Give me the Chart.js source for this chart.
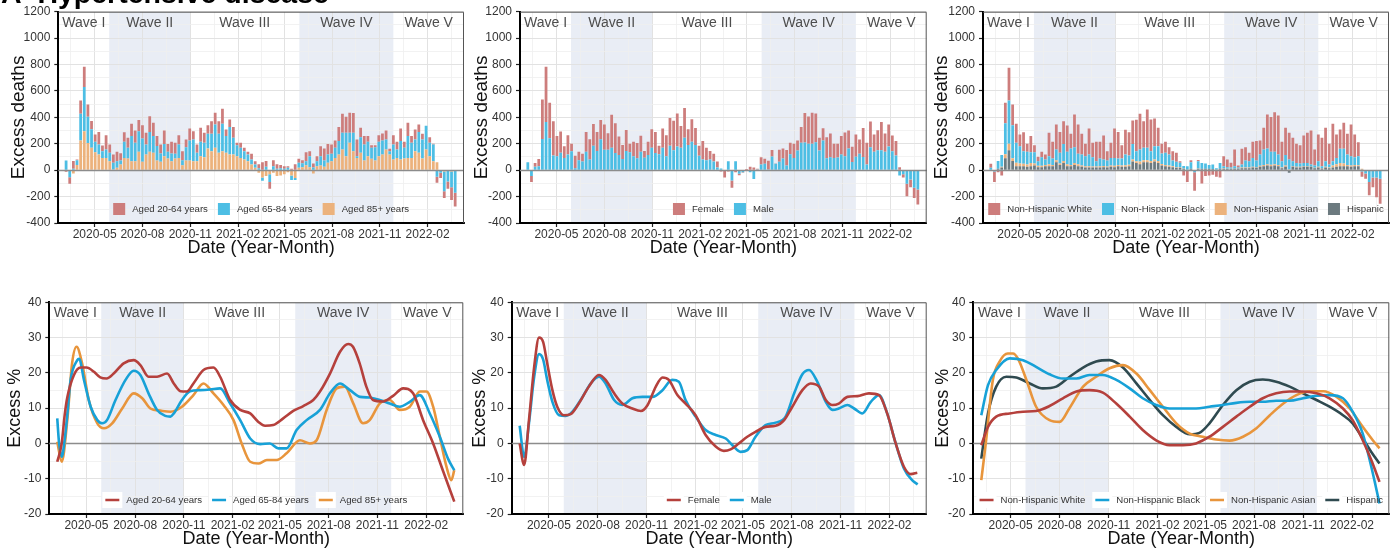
<!DOCTYPE html>
<html>
<head>
<meta charset="utf-8">
<script src="https://cdn.jsdelivr.net/npm/chart.js@4.4.0/dist/chart.umd.min.js"></script>
<style>
  body { margin: 0; width: 1399px; height: 551px; overflow: hidden; background: #fff; position: relative; font-family: "Liberation Sans", Arial, sans-serif; }
  canvas { position: absolute; }
  #title { position: absolute; z-index: 2; left: 1px; top: -22px; font: bold 28.5px "Liberation Sans", Arial, sans-serif; line-height: 30px; white-space: nowrap; color: #000; }
</style>
</head>
<body>
<div id="title">A&nbsp; Hypertensive disease</div>
<canvas id="ageBars" width="466" height="270" style="left:0;top:0"></canvas>
<canvas id="sexBars" width="464" height="270" style="left:466px;top:0"></canvas>
<canvas id="raceBars" width="469" height="270" style="left:930px;top:0"></canvas>
<canvas id="ageLines" width="466" height="271" style="left:0;top:280px"></canvas>
<canvas id="sexLines" width="464" height="271" style="left:466px;top:280px"></canvas>
<canvas id="raceLines" width="469" height="271" style="left:930px;top:280px"></canvas>
<script>
// weekly bars: week ending 2020-03-07 .. 2022-03-26 (108 weeks)
const firstWeek = Date.UTC(2020, 2, 7);
const weekCount = 108;
const xMin = -15, xMax = 766;

const monthLabels = ["2020-05", "2020-08", "2020-11", "2021-02", "2021-05", "2021-08", "2021-11", "2022-02"];
const waveNames = ["Wave I", "Wave II", "Wave III", "Wave IV", "Wave V"];
const waveBreaks = ["2020-05-29", "2020-11-01", "2021-05-30", "2021-11-27"];

// excess deaths by age (stack: 85+ bottom, 65-84, 20-64 top)
const age85 = [0,0,-25,40,225,295,205,170,136,119, 93,93,68,5,18,43,93,88,68,68,
  139,63,119,139,131,73,63,106,88,68, 88,93,38,73,73,68,68,106,98,164,
  144,169,131,144,131,119,119,106,93,81, 68,43,18,-20,-55,-45,-30,-20,-45,-40,
  -30,-15,-40,-60,18,23,38,23,-25,30, 35,25,56,68,93,119,157,106,207,144,
  93,131,73,106,86,73,106,119,157,119, 81,93,81,88,93,93,144,131,88,157,
  106,68,60,0,-10,-5,-10,-5];
const age6584 = [73,-53,10,35,202,334,200,140,79,76, 51,64,63,51,50,30,122,81,190,139,
  156,177,75,151,127,111,63,93,51,58, 36,101,38,101,152,164,63,109,109,111,
  131,177,144,207,127,207,126,83,76,63, 51,38,25,15,-25,25,-60,30,10,15,
  10,18,-35,-15,38,30,30,83,20,38, 71,48,63,56,76,101,126,177,76,139,
  13,119,121,109,83,101,109,106,75,25, 113,64,139,81,165,114,88,159,144,180,
  101,127,-50,-20,-150,-80,-120,-165];
const age2064 = [-12,-50,60,5,101,154,92,62,55,95, 43,108,63,63,71,56,73,76,93,93,
  84,101,89,119,101,74,68,101,60,89, 83,71,68,58,91,63,63,106,76,66,
  96,88,96,114,50,58,81,18,38,25, 20,43,25,30,60,45,-50,45,35,25,
  20,12,10,45,30,23,68,38,30,38, 76,91,80,70,56,106,144,121,151,149,
  126,71,64,43,20,15,50,53,68,18, 71,58,96,46,101,51,76,56,43,0,
  43,5,-45,-40,-50,-55,-95,-105];

// excess deaths by sex (stack: male bottom, female top)
const sexFemale = [0,-45,30,55,298,419,268,260,152,161, 89,146,56,95,65,60,150,155,165,145,
  145,190,125,250,225,140,105,160,65,110, 115,120,50,100,140,160,65,145,160,210,
  225,250,165,225,120,170,130,75,140,95, 65,60,45,-10,-50,-10,-56,-15,-10,-5,
  8,25,20,5,55,38,66,48,2,92, 77,117,86,107,76,119,222,207,234,218,
  96,93,159,180,107,104,139,179,136,116, 169,108,220,164,194,131,152,213,139,167,
  119,109,22,-25,-94,-60,-76,-114];
const sexMale = [60,-45,25,30,237,364,242,111,106,131, 93,119,144,15,75,65,140,80,185,145,
  235,155,155,170,130,115,85,145,135,105, 90,140,95,115,170,130,120,170,105,185,
  150,180,170,245,190,215,190,110,80,75, 80,65,20,12,-5,68,-78,68,-28,-15,
  -5,-15,-66,5,43,48,5,104,48,63, 88,35,121,93,149,207,210,200,200,212,
  149,225,91,98,93,96,119,106,164,61, 101,124,100,43,174,139,151,151,139,179,
  144,111,-40,-30,-103,-70,-134,-146];

// excess deaths by race/ethnicity (stack: Hispanic, Asian, Black, White top)
const raceWhite = [30,-80,-15,-40,155,247,157,144,88,144, 61,122,53,33,41,38,177,127,189,159,
  172,199,111,248,222,156,94,197,109,147, 127,182,71,114,223,202,101,187,177,177,
  237,270,202,291,240,209,139,74,84,55, 71,68,12,-40,-90,15,-140,10,-100,-45,
  -40,-35,-50,-55,76,58,36,127,15,119, 101,63,122,147,106,164,258,263,300,295,
  147,207,202,177,145,139,208,228,257,122, 202,215,253,157,283,177,146,197,156,240,
  172,106,-40,-40,-100,-75,-150,-190];
const raceBlack = [15,-5,60,90,235,328,250,151,132,96, 96,81,86,35,65,41,61,48,82,81,
  129,94,124,119,79,84,76,89,70,40, 58,49,45,58,59,48,53,82,69,119,
  77,92,94,94,74,102,112,79,91,84, 43,40,33,20,25,50,-10,55,45,40,
  30,35,10,45,15,12,10,17,8,23, 53,48,68,50,86,117,119,97,94,79,
  48,79,76,38,30,25,25,25,15,17, 43,15,43,23,33,48,107,112,79,71,
  58,68,-10,-20,-85,-50,-50,-60];
const raceAsian = [0,0,0,5,30,50,20,26,20,18, 18,25,15,10,10,10,15,10,15,10,
  15,15,10,15,15,10,10,10,8,8, 10,10,8,10,12,10,10,12,12,15,
  12,20,15,15,15,15,15,12,10,10, 8,5,5,2,0,0,0,2,0,0,
  0,0,0,0,5,3,2,3,2,5, 5,5,5,5,8,10,10,12,10,10,
  5,10,5,5,5,5,5,5,3,3, 5,3,5,5,15,20,25,20,10,10,
  10,8,5,0,0,0,0,0];
const raceHispanic = [3,-5,10,20,90,150,70,30,30,30, 25,30,35,23,23,30,30,30,60,40,
  55,30,30,40,30,25,20,20,20,20, 20,22,20,25,22,30,25,25,30,65,
  55,45,60,60,55,65,55,35,30,25, 22,18,18,10,5,10,-5,10,10,10,
  10,8,5,10,10,8,8,10,10,15, 15,15,20,18,25,30,35,30,35,30,
  15,25,-20,25,20,20,25,25,25,15, 20,12,20,15,20,25,30,30,30,25,
  30,30,5,-5,-5,-5,-5,-5];

// smoothed excess % curves: [week number, percent]
const pctAge2064 = [[1,-5.2],[2.2,0],[3,8],[3.7,13],[5.5,19.4],[7.3,21.5],[8.9,21.5],[10.9,20.3],[12.6,18.7],[14.3,18.4],
  [16.2,19.8],[18.9,22.7],[21.6,23.6],[23.4,22.2],[25.6,18.9],[27.9,18.9],[30.6,19.8],[32.4,17],[34.2,14.8],[35.9,14.7],
  [37.7,17],[40.4,20.8],[43.1,21.5],[44.9,18.9],[47.6,12.3],[50.3,9.5],[53,8.5],[55.2,6.1],[57,5],[59.2,5.2],
  [61.9,7.1],[64.6,9.2],[67.3,10.6],[70,12.3],[71.8,14.7],[74.5,19.8],[77.2,26],[79.4,28.2],[80.7,27.4],[82.5,22.7],
  [84.3,16.1],[86.1,12.3],[88.8,11.9],[91.5,13.5],[94.2,15.6],[96.9,14.2],[99.6,6.6],[102.3,0],[104.9,-7.6],[108,-16.5]];
const pctAge6584 = [[1,7.1],[1.5,0],[2.2,-3.8],[3,1],[3.7,8],[4.6,18],[6.4,23.6],[6.9,24],[8.2,18],[10,10.4],
  [11.8,6.6],[13.1,5.7],[14.4,6.6],[16.7,12.3],[19.4,18],[21.6,20.6],[23.4,19.4],[25.6,14.2],[27.9,9.5],[30.1,7.8],
  [31.5,7.6],[32.4,8.5],[34.6,12.3],[36.8,14.8],[39.5,15.1],[42.2,15.3],[44.9,15.6],[47.6,11.3],[50.3,6.6],[53,1.4],
  [55.7,-0.2],[58.3,0],[60.6,-1.4],[62.8,-1.4],[65.5,3.8],[68.2,6.6],[71.8,9.5],[74.5,14.2],[77.2,17],[79.9,15.1],
  [82.6,13.2],[85.2,13],[87.9,12.3],[90.6,11.3],[93.3,10.4],[96,11.8],[98.7,13.7],[101.4,8.5],[104.1,1.9],[106.3,-4.3],[108,-7.6]];
const pctAge85 = [[1,0.5],[2.2,-5.2],[3.7,6.6],[5,22.7],[6.2,27.4],[7.7,22.7],[9.5,12.3],[11.8,5.7],[13.6,4.3],[15.8,5.7],
  [18.5,9.9],[21.6,14.2],[23.9,12.8],[26.1,9.9],[28.8,9.3],[31.5,9],[34.6,10.4],[37.7,13.7],[40.4,17],[43.1,14.2],
  [45.8,10.9],[48.5,6.6],[50.7,0],[53,-5.2],[55.2,-5.7],[57.5,-4.7],[60.1,-4.7],[62.8,-2.8],[66.4,0.9],[69.1,0],
  [70.9,0.9],[73.6,9.5],[76.3,15.6],[78.5,16.1],[80.8,11.3],[83.4,5.7],[85.2,6.6],[87.9,11.3],[90.6,12.3],[93.3,9.5],
  [96,10.4],[98.7,14.7],[100.5,14.7],[102.3,10.4],[104.1,1.9],[105.9,-6.6],[107.2,-10.4],[108,-7.6]];

const pctFemale = [[1,0],[2.2,-6.1],[3.5,6.6],[4.9,21.7],[6.2,30],[7.3,28.8],[8.4,22.7],[9.8,15.1],[11.1,10.4],[12.9,8],
  [14.7,8.3],[16.9,11.3],[19.6,16.1],[22.3,19.4],[24.1,18],[26.4,14.2],[28.6,11.3],[31.3,9.9],[33.6,9.2],[35.4,10.9],
  [37.6,16.1],[39.4,18.7],[41.1,18],[43.4,13.7],[45.6,11.3],[48.3,8],[51,2.4],[53.7,-0.9],[55.9,-2.1],[57.7,-1.7],
  [59.9,0],[62.2,1.9],[64.4,3.3],[67.1,4.7],[69.8,5],[72.1,6.6],[74.3,10.4],[77,15.1],[79.2,17],[81.5,16.1],
  [83.3,12.3],[85.1,10.9],[86.8,11.3],[89.1,13.2],[91.8,13.4],[94.9,14.2],[97.6,13.7],[99.8,8.5],[102.1,0],[104.3,-6.6],
  [106.1,-8.7],[107.9,-8.3]];
const pctMale = [[1,5],[2.2,-3.8],[3.5,5.7],[4.9,18.9],[6.2,25.3],[7.3,23.8],[8.4,18],[9.8,11.8],[11.6,8],[13.4,7.8],
  [15.2,9],[17.4,12.3],[20.1,17],[22.3,18.9],[24.1,17],[26.4,12.3],[28.6,10.9],[31.3,12.8],[34,13.2],[36.7,13.2],
  [39.4,15.1],[42,18],[43.8,17.5],[45.6,12.3],[48.3,7.6],[51,3.8],[53.7,2.4],[56.4,1.4],[58.2,-0.5],[60.4,-2.4],
  [62.2,-1.9],[64.4,1.9],[67.1,5.2],[69.8,5.9],[72.5,7.6],[74.8,14.2],[77,19.6],[78.8,20.8],[81,17.5],[83.3,11.8],
  [85.1,9.5],[86.8,9.9],[89.1,10.9],[90.9,9.9],[93.1,8.5],[95.4,11.8],[97.6,13.7],[99.8,8.5],[102.1,0],[104.3,-7.1],
  [106.5,-10.4],[108,-11.6]];

const pctWhite = [[1,-0.5],[2.8,4.7],[5,7.6],[8.6,8.5],[12.2,9],[15.7,9.2],[19.3,10.6],[22.9,12.8],[26.5,14.7],[30,15.1],
  [33.6,14.4],[37.2,11.3],[40.8,7.6],[44.3,3.8],[47.9,0.9],[51.5,-0.5],[55.1,-0.5],[58.6,0],[62.2,1.9],[65.8,4.7],
  [69.4,7.6],[73,10.4],[76.5,12.8],[80.1,14.2],[83.7,14.7],[87.3,14.7],[90.9,14.2],[94.4,12.8],[98,9.9],[100.6,6.6],
  [103.3,0.9],[105.6,-4.7],[107.8,-10.9]];
const pctBlack = [[1,8],[2.8,16.5],[5,20.8],[8.6,24.1],[12.2,23.6],[15.7,21.7],[19.3,19.6],[22.9,18.4],[26.5,18.4],[30,19.4],
  [33.6,19.4],[37.2,18],[40.8,15.6],[44.3,12.8],[47.9,10.9],[51.5,9.9],[55.1,9.9],[58.6,9.9],[62.2,10.4],[65.8,10.9],
  [69.4,11.5],[73,11.8],[76.5,11.8],[80.1,12.1],[83.7,12.1],[87.3,12.8],[90.9,13.5],[94.4,13.7],[98,12.8],[100.6,9],
  [103.3,2.8],[105.6,-6.6],[107.8,-17]];
const pctAsian = [[1,-10.4],[2.2,0],[4.1,18],[5.9,23.2],[8.1,25.5],[9.5,25.5],[10.8,24.1],[13.1,18],[15.7,10.4],[19.3,6.6],
  [22,6.1],[24.6,9.9],[28.3,16.1],[31.8,18.9],[35.4,21.3],[39,22.2],[42.6,19.8],[46.2,15.1],[49.7,10.4],[53.3,5.7],
  [56.9,2.8],[60.4,1.9],[64,1.1],[67.6,0.8],[71.2,1.9],[74.8,4.3],[78.4,8],[82,11.3],[85.5,13.7],[89.1,14.8],
  [92.7,14.8],[96.3,13.2],[99.8,9.9],[103.3,4.7],[106,0.9],[107.8,-1.4]];
const pctHispanic = [[1,-4.3],[2.8,8.5],[5,16.1],[7.7,18.9],[10.4,18.7],[14,17],[17.5,15.6],[21.1,16.1],[24.7,18.9],[28.3,21.5],
  [31.8,23.2],[35.4,23.6],[39,21.5],[42.6,17],[46.2,12.3],[49.7,8],[53.3,4.7],[56.9,2.6],[59.5,3],[62.2,5.7],
  [65.8,10.9],[69.4,15.1],[73,17.5],[76.5,18.1],[80.1,17.5],[83.7,16.1],[87.3,14.2],[90.9,12.3],[94.4,10.4],[98,8],
  [100.6,5.7],[103.3,1.4],[105.6,-2.4],[107.8,-5.7]];

const barRed = "#cd7d7c", barBlue = "#4dbee4", barOrange = "#ecb27c", barGray = "#6c7a7f";
const lineRed = "#b5403c", lineBlue = "#17a1d7", lineOrange = "#e8953c", lineDark = "#2f4a50";

Chart.defaults.font.family = '"Liberation Sans", Arial, sans-serif';
Chart.defaults.color = "#333";

function dayOf(s) {
  const d = Date.UTC(+s.slice(0, 4), +s.slice(5, 7) - 1, s.length > 7 ? +s.slice(8, 10) : 1);
  return (d - firstWeek) / 864e5;
}

const weekDays = Array.from({ length: weekCount }, (_, i) => i * 7);
const majorDays = monthLabels.map(dayOf);
const minorDays = [];
majorDays.forEach((d, i) => {
  if (i < majorDays.length - 1) minorDays.push((d + majorDays[i + 1]) / 2);
});
minorDays.push(majorDays[0] - (majorDays[1] - majorDays[0]) / 2);
minorDays.push(majorDays[majorDays.length - 1] + (majorDays[majorDays.length - 1] - majorDays[majorDays.length - 2]) / 2);
const xTickValues = majorDays.concat(minorDays).filter(v => v >= xMin && v <= xMax).sort((a, b) => a - b);
const waveEdges = [xMin].concat(waveBreaks.map(dayOf), [xMax]);

function xTickLabel(v) {
  const i = majorDays.findIndex(d => Math.abs(d - v) < 0.01);
  return i >= 0 ? monthLabels[i] : "";
}

function barSet(label, values, color) {
  return {
    label,
    data: values.map((v, i) => ({ x: weekDays[i], y: v })),
    backgroundColor: color,
    borderWidth: 0,
    categoryPercentage: 0.8,
    barPercentage: 0.95
  };
}

function lineSet(label, pairs, color) {
  return {
    label,
    data: pairs.map(([w, v]) => ({ x: (w - 1) * 7, y: v })),
    borderColor: color,
    borderWidth: 2.6,
    pointRadius: 0,
    fill: false,
    cubicInterpolationMode: "monotone"
  };
}

function drawZero(chart) {
  const { ctx, chartArea: a, scales: { y } } = chart;
  const py = Math.round(y.getPixelForValue(0)) + 0.5;
  ctx.save();
  ctx.strokeStyle = "#8c8c8c";
  ctx.lineWidth = 1.3;
  ctx.beginPath();
  ctx.moveTo(a.left, py);
  ctx.lineTo(a.right, py);
  ctx.stroke();
  ctx.restore();
}

function drawLegend(chart, items, kind) {
  const { ctx, chartArea: a } = chart;
  ctx.save();
  ctx.beginPath();
  ctx.rect(a.left, a.top, a.right - a.left, a.bottom - a.top);
  ctx.clip();
  ctx.font = '9.6px "Liberation Sans", Arial, sans-serif';
  const key = kind === "box" ? 12 : 14;
  const gap = 7, space = 10;
  const widths = items.map(it => key + gap + ctx.measureText(it.label).width);
  const total = widths.reduce((s, w) => s + w, 0) + space * (items.length - 1);
  let x = (a.left + a.right) / 2 - total / 2;
  const y = a.bottom - 14;
  items.forEach((it, i) => {
    if (kind === "box") {
      ctx.fillStyle = it.color;
      ctx.fillRect(x, y - 6, 12, 12);
    } else {
      ctx.fillStyle = "#fff";
      ctx.fillRect(x - 3, y - 8, key + 6, 16);
      ctx.strokeStyle = it.color;
      ctx.lineWidth = 2.6;
      ctx.beginPath();
      ctx.moveTo(x, y);
      ctx.lineTo(x + key, y);
      ctx.stroke();
    }
    ctx.fillStyle = "#333";
    ctx.textAlign = "left";
    ctx.textBaseline = "middle";
    ctx.fillText(it.label, x + key + gap, y);
    x += widths[i] + space;
  });
  ctx.restore();
}

const panelDeco = {
  id: "panelDeco",
  beforeDraw(chart) {
    const { ctx, chartArea: a, scales: { x } } = chart;
    ctx.save();
    ctx.fillStyle = "#fff";
    ctx.fillRect(0, 0, chart.width, chart.height);
    ctx.fillStyle = "#e9edf5";
    [1, 3].forEach(i => {
      const x0 = x.getPixelForValue(waveEdges[i]);
      const x1 = x.getPixelForValue(waveEdges[i + 1]);
      ctx.fillRect(x0, a.top, x1 - x0, a.bottom - a.top);
    });
    ctx.restore();
  },
  beforeDatasetsDraw(chart, args, opts) {
    if (!opts.zeroOnTop) drawZero(chart);
  },
  afterDatasetsDraw(chart, args, opts) {
    const { ctx, chartArea: a, scales: { x } } = chart;
    if (opts.zeroOnTop) drawZero(chart);
    ctx.save();
    ctx.font = '14px "Liberation Sans", Arial, sans-serif';
    ctx.fillStyle = "#4d4d4d";
    ctx.textAlign = "center";
    ctx.textBaseline = "middle";
    waveNames.forEach((name, i) => {
      const cx = (x.getPixelForValue(waveEdges[i]) + x.getPixelForValue(waveEdges[i + 1])) / 2;
      ctx.fillText(name, cx, a.top + 11);
    });
    ctx.strokeStyle = "#555";
    ctx.lineWidth = 1;
    ctx.beginPath();
    ctx.moveTo(a.left, a.top + 0.5);
    ctx.lineTo(a.right - 0.5, a.top + 0.5);
    ctx.lineTo(a.right - 0.5, a.bottom);
    ctx.stroke();
    ctx.restore();
    drawLegend(chart, opts.legend, opts.legendKind);
  }
};

function gridOpts() {
  return {
    offset: false,
    tickLength: 4,
    color: c => (c.tick && c.tick.label ? "#e2e2e2" : "#efefef"),
    lineWidth: c => (c.tick && c.tick.label ? 1 : 0.8),
    tickColor: c => (c.tick && c.tick.label ? "#222" : "rgba(0,0,0,0)"),
    tickWidth: 1.2
  };
}

function buildPanel(id, p) {
  const isBar = p.kind === "bar";
  new Chart(document.getElementById(id), {
    type: isBar ? "bar" : "line",
    data: { datasets: p.datasets },
    options: {
      responsive: false,
      animation: false,
      events: [],
      layout: { padding: { top: p.padTop, bottom: p.padBottom, left: 0, right: p.padRight } },
      plugins: {
        legend: { display: false },
        tooltip: { enabled: false },
        panelDeco: { legend: p.legend, legendKind: isBar ? "box" : "line", zeroOnTop: isBar }
      },
      scales: {
        x: {
          type: "linear",
          min: xMin,
          max: xMax,
          offset: false,
          stacked: isBar,
          afterBuildTicks: s => { s.ticks = xTickValues.map(v => ({ value: v })); },
          afterFit: s => { s.height = 37; },
          ticks: { autoSkip: false, maxRotation: 0, padding: 0, color: "#333", font: { size: 12 }, callback: v => xTickLabel(v) },
          grid: gridOpts(),
          border: { color: "#000", width: 2 },
          title: { display: true, text: "Date (Year-Month)", font: { size: 18 }, color: "#111", padding: { top: 0, bottom: 1 } }
        },
        y: {
          min: p.yMin,
          max: p.yMax,
          stacked: isBar,
          afterFit: s => { s.width = p.yWidth; },
          ticks: { stepSize: p.yStep, autoSkip: false, padding: 4, color: "#333", font: { size: 12 },
            callback: v => (v % p.yLabelStep === 0 ? String(v) : "") },
          grid: gridOpts(),
          border: { color: "#000", width: 2 },
          title: { display: true, text: p.yTitle, font: { size: p.yTitleSize }, color: "#111", padding: { top: p.titlePad, bottom: 0 } }
        }
      }
    },
    plugins: [panelDeco]
  });
}

const barAxis = { kind: "bar", yMin: -400, yMax: 1200, yStep: 100, yLabelStep: 200, yTitle: "Excess deaths", yTitleSize: 19, padTop: 11.7, padBottom: 10 };
const lineAxis = { kind: "line", yMin: -20, yMax: 40, yStep: 5, yLabelStep: 10, yTitle: "Excess %", yTitleSize: 18, padTop: 22.3, padBottom: 0 };

buildPanel("ageBars", Object.assign({}, barAxis, {
  yWidth: 58.3, padRight: 2, titlePad: 7,
  datasets: [barSet("Aged 85+ years", age85, barOrange), barSet("Aged 65-84 years", age6584, barBlue), barSet("Aged 20-64 years", age2064, barRed)],
  legend: [{ label: "Aged 20-64 years", color: barRed }, { label: "Aged 65-84 years", color: barBlue }, { label: "Aged 85+ years", color: barOrange }]
}));

buildPanel("sexBars", Object.assign({}, barAxis, {
  yWidth: 54, padRight: 3.3, titlePad: 4.3,
  datasets: [barSet("Male", sexMale, barBlue), barSet("Female", sexFemale, barRed)],
  legend: [{ label: "Female", color: barRed }, { label: "Male", color: barBlue }]
}));

buildPanel("raceBars", Object.assign({}, barAxis, {
  yWidth: 53, padRight: 10, titlePad: 0.5,
  datasets: [barSet("Hispanic", raceHispanic, barGray), barSet("Non-Hispanic Asian", raceAsian, barOrange),
    barSet("Non-Hispanic Black", raceBlack, barBlue), barSet("Non-Hispanic White", raceWhite, barRed)],
  legend: [{ label: "Non-Hispanic White", color: barRed }, { label: "Non-Hispanic Black", color: barBlue },
    { label: "Non-Hispanic Asian", color: barOrange }, { label: "Hispanic", color: barGray }]
}));

buildPanel("ageLines", Object.assign({}, lineAxis, {
  yWidth: 49.3, padRight: 2.7, titlePad: 4,
  datasets: [lineSet("Aged 20-64 years", pctAge2064, lineRed), lineSet("Aged 65-84 years", pctAge6584, lineBlue), lineSet("Aged 85+ years", pctAge85, lineOrange)],
  legend: [{ label: "Aged 20-64 years", color: lineRed }, { label: "Aged 65-84 years", color: lineBlue }, { label: "Aged 85+ years", color: lineOrange }]
}));

buildPanel("sexLines", Object.assign({}, lineAxis, {
  yWidth: 45.7, padRight: 3.3, titlePad: 3,
  datasets: [lineSet("Female", pctFemale, lineRed), lineSet("Male", pctMale, lineBlue)],
  legend: [{ label: "Female", color: lineRed }, { label: "Male", color: lineBlue }]
}));

buildPanel("raceLines", Object.assign({}, lineAxis, {
  yWidth: 43.3, padRight: 9.7, titlePad: 2.3,
  datasets: [lineSet("Non-Hispanic White", pctWhite, lineRed), lineSet("Non-Hispanic Black", pctBlack, lineBlue),
    lineSet("Non-Hispanic Asian", pctAsian, lineOrange), lineSet("Hispanic", pctHispanic, lineDark)],
  legend: [{ label: "Non-Hispanic White", color: lineRed }, { label: "Non-Hispanic Black", color: lineBlue },
    { label: "Non-Hispanic Asian", color: lineOrange }, { label: "Hispanic", color: lineDark }]
}));
</script>
</body>
</html>
